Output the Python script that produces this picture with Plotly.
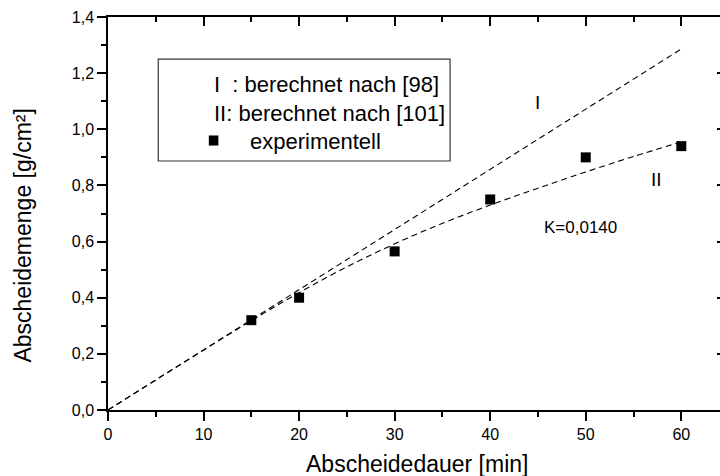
import plotly.graph_objects as go

# Measured deposition mass over deposition time
time_min = [15, 20, 30, 40, 50, 60]
mass_g_cm2 = [0.32, 0.40, 0.565, 0.75, 0.90, 0.94]

# Curve I: calculated after [98] (straight line)
curve_I_t = [0, 60]
curve_I_m = [0, 1.286]

# Curve II: calculated after [101], K = 0,0140
curve_II_t = [0, 5, 10, 15, 20, 25, 30, 35, 40, 45, 50, 55, 60]
curve_II_m = [0, 0.107, 0.213, 0.318, 0.418, 0.510, 0.592, 0.665, 0.730, 0.790, 0.848, 0.903, 0.955]

x_ticks = [0, 10, 20, 30, 40, 50, 60]
y_ticks = [0.0, 0.2, 0.4, 0.6, 0.8, 1.0, 1.2, 1.4]

X_RANGE = [0, 64.05]
Y_RANGE = [0, 1.4]

FONT = "Liberation Sans, Arial, sans-serif"
BLACK = "#000000"
dash_style = "6px,4px"

fig = go.Figure()

fig.add_trace(go.Scatter(x=curve_I_t, y=curve_I_m, mode="lines",
                         line=dict(color=BLACK, width=1.1, dash=dash_style),
                         showlegend=False, hoverinfo="skip"))
fig.add_trace(go.Scatter(x=curve_II_t, y=curve_II_m, mode="lines",
                         line=dict(color=BLACK, width=1.1, dash=dash_style, shape="spline"),
                         showlegend=False, hoverinfo="skip"))
fig.add_trace(go.Scatter(x=time_min, y=mass_g_cm2, mode="markers",
                         marker=dict(symbol="square", size=10, color=BLACK,
                                     line=dict(width=0)),
                         showlegend=False))

# invisible traces so the mirrored top / right axes are drawn
fig.add_trace(go.Scatter(x=[None], y=[None], xaxis="x2", yaxis="y", showlegend=False))
fig.add_trace(go.Scatter(x=[None], y=[None], xaxis="x", yaxis="y2", showlegend=False))

axis_common = dict(showgrid=False, zeroline=False, linecolor=BLACK, linewidth=1.5,
                   tickcolor=BLACK, tickwidth=1.5)

fig.update_layout(
    width=720, height=476,
    margin=dict(l=108, r=0, t=17, b=66),
    paper_bgcolor="white", plot_bgcolor="white",
    separators=",.",
    font=dict(family=FONT, color=BLACK, size=16),
    showlegend=False,
    xaxis=dict(range=X_RANGE, tickvals=x_ticks, ticks="outside", ticklen=9,
               showline=True, tickfont=dict(size=16),
               minor=dict(dtick=5, tick0=0, ticks="outside", ticklen=5,
                          tickwidth=1.5, tickcolor=BLACK),
               **axis_common),
    yaxis=dict(range=Y_RANGE, tickvals=y_ticks, tickformat=".1f", ticks="outside",
               ticklen=9, showline=True, tickfont=dict(size=16),
               minor=dict(dtick=0.1, tick0=0, ticks="outside", ticklen=5,
                          tickwidth=1.5, tickcolor=BLACK),
               **axis_common),
    xaxis2=dict(range=X_RANGE, overlaying="x", side="top", tickvals=x_ticks,
                ticks="inside", ticklen=9, showticklabels=False, showline=True,
                minor=dict(dtick=5, tick0=0, ticks="inside", ticklen=5,
                           tickwidth=1.5, tickcolor=BLACK),
                **axis_common),
    yaxis2=dict(range=Y_RANGE, overlaying="y", side="right", tickvals=y_ticks,
                ticks="inside", ticklen=3, showticklabels=False, showline=False,
                showgrid=False, zeroline=False, tickcolor=BLACK, tickwidth=1.5),
)

# legend box
fig.add_shape(type="rect", xref="x", yref="y", x0=5.26, x1=35.8, y0=0.887, y1=1.250,
              line=dict(color="#333333", width=1.2), fillcolor="rgba(0,0,0,0)")
# legend marker symbol
fig.add_shape(type="rect", xref="x", yref="y", x0=10.55, x1=11.55, y0=0.942, y1=0.978,
              line=dict(width=0), fillcolor=BLACK)

annotations = [
    dict(x=10.9, y=1.16, text="I\u00a0\u00a0: berechnet nach [98]", xanchor="left", size=22),
    dict(x=10.9, y=1.055, text="II: berechnet nach [101]", xanchor="left", size=22),
    dict(x=14.7, y=0.955, text="experimentell", xanchor="left", size=22),
    dict(x=45.0, y=1.095, text="I", xanchor="center", size=19),
    dict(x=57.4, y=0.822, text="II", xanchor="center", size=19),
    dict(x=49.4, y=0.649, text="K=0,0140", xanchor="center", size=17),
]
for a in annotations:
    fig.add_annotation(x=a["x"], y=a["y"], xref="x", yref="y", text=a["text"],
                       xanchor=a["xanchor"], yanchor="middle", showarrow=False,
                       font=dict(family=FONT, size=a["size"], color=BLACK))

# axis titles
fig.add_annotation(x=0.5057, y=-0.1386, xref="paper", yref="paper",
                   text="Abscheidedauer [min]", showarrow=False,
                   xanchor="center", yanchor="middle",
                   font=dict(family=FONT, size=23, color=BLACK))
fig.add_annotation(x=-0.139, y=0.4437, xref="paper", yref="paper",
                   text="Abscheidemenge [g/cm²]", showarrow=False, textangle=-90,
                   xanchor="center", yanchor="middle",
                   font=dict(family=FONT, size=23, color=BLACK))

fig.write_html("out.html")
